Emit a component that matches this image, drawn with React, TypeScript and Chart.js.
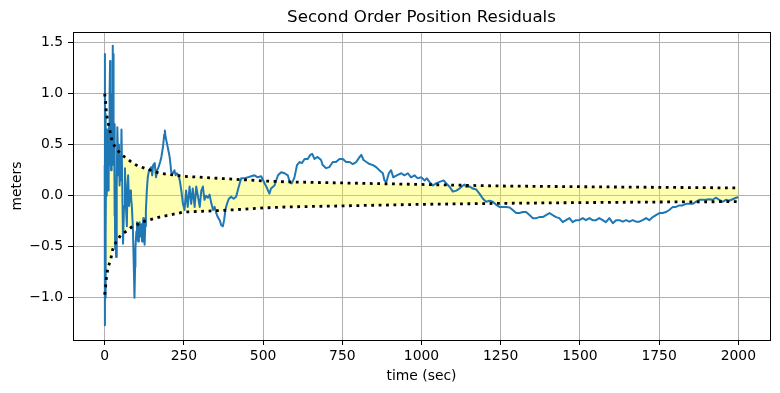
import React, { useEffect, useRef } from "react";
import { Chart, registerables } from "chart.js";

Chart.register(...registerables);

const titleText = "Second Order Position Residuals";
const xLabel = "time (sec)";
const yLabel = "meters";

const xTicks = [0, 250, 500, 750, 1000, 1250, 1500, 1750, 2000];
const yTicks = [-1.0, -0.5, 0.0, 0.5, 1.0, 1.5];

const residualTime = [
  0, 0.5, 1, 1.5, 2, 3, 4, 5, 6, 7, 8, 10, 11, 12, 13, 14, 15, 16, 17, 18, 19, 20, 22, 24, 25, 26, 27, 28, 30, 31,
  32, 33, 34, 36, 38, 40, 43, 45, 47, 49, 51, 53, 55, 58, 61, 64, 67, 70, 72, 74, 77, 80, 83, 86, 89, 92, 94, 96, 97,
  100, 102, 104, 106, 108, 110, 112, 114, 116, 118, 120, 122, 124, 126, 128, 130, 133, 136, 140, 147, 150, 153, 158,
  162, 166, 170, 175, 179, 184, 188, 190, 192, 196, 200, 205, 208, 210, 215, 220, 224, 228, 233, 237, 242, 247, 252,
  257, 262, 268, 273, 278, 284, 289, 294, 300, 305, 310, 315, 320, 326, 331, 337, 342, 347, 352, 357, 363, 368, 373,
  377, 381, 386, 392, 399, 407, 415, 420, 426, 431, 441, 452, 462, 473, 483, 494, 505, 510, 520, 525, 536, 547, 557,
  568, 578, 584, 590, 595, 599, 607, 615, 623, 631, 641, 649, 655, 662, 672, 683, 688, 699, 709, 720, 730, 741, 752,
  762, 773, 783, 794, 805, 810, 817, 826, 836, 847, 857, 867, 878, 883, 889, 897, 904, 911, 922, 936, 946, 957, 967,
  978, 988, 999, 1010, 1017, 1025, 1036, 1046, 1057, 1070, 1078, 1088, 1099, 1110, 1120, 1131, 1136, 1141, 1152, 1162,
  1173, 1183, 1194, 1204, 1215, 1225, 1236, 1246, 1257, 1267, 1278, 1288, 1299, 1309, 1320, 1330, 1341, 1351, 1362,
  1372, 1383, 1393, 1404, 1414, 1425, 1435, 1446, 1456, 1467, 1477, 1488, 1498, 1509, 1519, 1530, 1540, 1551, 1561,
  1572, 1582, 1593, 1604, 1614, 1625, 1635, 1646, 1656, 1667, 1677, 1688, 1698, 1709, 1719, 1730, 1740, 1751, 1761,
  1772, 1782, 1793, 1803, 1814, 1824, 1835, 1845, 1856, 1866, 1877, 1887, 1898, 1908, 1919, 1929, 1940, 1950, 1961,
  1971, 1982, 1993, 2000,
];

const residualMeters = [
  0.3, 1.39, -1.27, 0.6, -1.0, 0.8, -0.4, 0.65, 0.0, 0.55, 0.1, 0.65, 0.05, 0.6, 0.15, 0.7, 0.3, 1.0, 1.32, 0.3, 0.6,
  0.25, 0.55, 1.0, 1.47, 0.5, 1.39, 0.3, 0.7, -0.2,
  0.3, -0.52, 0.0, -0.6, 0.1, 0.67, 0.2, 0.5, 0.1, 0.35, 0.15, 0.65, 0.2, -0.47, -0.1, 0.27, -0.1, -0.3, 0.1, 0.2, -0.1,
  0.05, 0.0, -0.12, -0.32, -0.7, -1.0, -0.7, -0.52,
  -0.35, -0.26, -0.42, -0.45, -0.3, -0.26, -0.4, -0.36, -0.28, -0.45, -0.3, -0.22, -0.4, -0.48, -0.3, -0.15, 0.05,
  0.18, 0.25, 0.28, 0.2, 0.3, 0.32,
  0.18, 0.25, 0.28, 0.33, 0.38, 0.48, 0.6, 0.64, 0.58, 0.52, 0.46, 0.38, 0.3, 0.23, 0.22, 0.25, 0.2, 0.22, 0.2, 0.15,
  0.05, -0.08, -0.14,
  0.05, -0.11, 0.09, -0.08, 0.07, -0.11, 0.09, 0.0, -0.11, 0.05, 0.09, -0.04, 0.0, -0.02, 0.01, -0.08, -0.14, -0.11,
  -0.17, -0.21, -0.24, -0.29, -0.3,
  -0.24, -0.14, -0.08, -0.03, -0.01, -0.03, -0.01, 0.05, 0.12, 0.17, 0.17, 0.18, 0.19, 0.2, 0.18, 0.19, 0.12, 0.09,
  0.02, 0.07, 0.1, 0.2, 0.23,
  0.22, 0.2, 0.135, 0.12, 0.15, 0.18, 0.3, 0.33, 0.32, 0.36, 0.36, 0.4, 0.41, 0.36, 0.38, 0.35, 0.3, 0.27, 0.28, 0.33,
  0.33, 0.36, 0.36,
  0.33, 0.33, 0.31, 0.33, 0.38, 0.4, 0.35, 0.33, 0.31, 0.3, 0.28, 0.25, 0.22, 0.15, 0.135, 0.22, 0.25, 0.18, 0.2, 0.22,
  0.2, 0.22, 0.18,
  0.2, 0.17, 0.18, 0.15, 0.17, 0.135, 0.1, 0.12, 0.135, 0.15, 0.12, 0.09, 0.04, 0.05, 0.07, 0.1, 0.11, 0.085, 0.09,
  0.07,
  0.06, 0.02, -0.03, -0.06, -0.05, -0.06, -0.09, -0.11, -0.11, -0.11, -0.115, -0.14, -0.17, -0.17, -0.16, -0.16, -0.19,
  -0.22, -0.22,
  -0.21, -0.21, -0.19, -0.17, -0.19, -0.21, -0.22, -0.26, -0.24, -0.22, -0.26, -0.24, -0.24, -0.22, -0.24, -0.22,
  -0.24, -0.24, -0.22,
  -0.24, -0.26, -0.22, -0.27, -0.24, -0.24, -0.255, -0.24, -0.255, -0.24, -0.255, -0.255, -0.24, -0.22, -0.24, -0.21,
  -0.19, -0.17, -0.17,
  -0.16, -0.14, -0.11, -0.11, -0.095, -0.095, -0.08, -0.08, -0.08, -0.06, -0.04, -0.04, -0.04, -0.035, -0.04, -0.02,
  -0.04, -0.06, -0.04,
  -0.05, -0.035, -0.02, -0.015,
];

const envelopeTime = [0, 3, 5, 10, 12, 19, 23, 26, 35, 50, 84, 105, 116, 173, 250, 373, 500, 577, 750, 1000, 1250, 1500, 1750, 2000];
const envelopeUpper = [1.0, 0.92, 0.82, 0.73, 0.7, 0.6, 0.54, 0.51, 0.47, 0.41, 0.33, 0.29, 0.28, 0.22, 0.19, 0.168, 0.145, 0.135, 0.125, 0.11, 0.095, 0.088, 0.082, 0.076];
const envelopeLower = [-0.97, -0.89, -0.82, -0.71, -0.69, -0.63, -0.56, -0.52, -0.46, -0.39, -0.31, -0.28, -0.26, -0.21, -0.16, -0.145, -0.12, -0.11, -0.1, -0.085, -0.075, -0.068, -0.062, -0.058];

const FONT = "'DejaVu Sans', 'Liberation Sans', sans-serif";

const decorations = {
  id: "decorations",
  afterDraw(chart: any) {
    const { ctx, chartArea: a } = chart;
    ctx.save();
    ctx.strokeStyle = "#000";
    ctx.lineWidth = 1;
    ctx.strokeRect(a.left + 0.5, a.top + 0.5, a.right - a.left, a.bottom - a.top);
    const cx = (a.left + a.right) / 2;
    const cy = (a.top + a.bottom) / 2;
    ctx.fillStyle = "#000";
    ctx.textAlign = "center";
    ctx.textBaseline = "middle";
    ctx.font = `16.7px ${FONT}`;
    ctx.fillText(titleText, cx, 18);
    ctx.font = `13.9px ${FONT}`;
    ctx.fillText(xLabel, cx, 376);
    ctx.translate(17, cy);
    ctx.rotate(-Math.PI / 2);
    ctx.fillText(yLabel, 0, 0);
    ctx.restore();
  },
};

export default function App() {
  const ref = useRef<HTMLCanvasElement | null>(null);
  useEffect(() => {
    document.body.style.margin = "0";
    const canvas = ref.current;
    if (!canvas) return;
    const tickFont = { family: FONT, size: 13.9 };
    const chart = new Chart(canvas, {
      type: "line",
      data: {
        datasets: [
          {
            label: "upper",
            data: envelopeTime.map((t, i) => ({ x: t, y: envelopeUpper[i] })),
            borderColor: "#000",
            borderWidth: 2.8,
            borderDash: [2.8, 4.6],
            borderCapStyle: "butt",
            pointRadius: 0,
            tension: 0,
            fill: "+1",
            backgroundColor: "rgba(255,255,0,0.3)",
          },
          {
            label: "lower",
            data: envelopeTime.map((t, i) => ({ x: t, y: envelopeLower[i] })),
            borderColor: "#000",
            borderWidth: 2.8,
            borderDash: [2.8, 4.6],
            borderCapStyle: "butt",
            pointRadius: 0,
            tension: 0,
            fill: false,
          },
          {
            label: "residual",
            data: residualTime.map((t, i) => ({ x: t, y: residualMeters[i] })),
            borderColor: "#1f77b4",
            borderWidth: 2,
            borderJoinStyle: "round",
            pointRadius: 0,
            tension: 0,
            fill: false,
          },
        ],
      },
      options: {
        animation: false,
        responsive: false,
        devicePixelRatio: 1,
        layout: { padding: { top: 32, right: 10, left: 0, bottom: 0 } },
        plugins: {
          legend: { display: false },
          tooltip: { enabled: false },
          title: { display: false },
          filler: { drawTime: "beforeDatasetsDraw" },
        },
        scales: {
          x: {
            type: "linear",
            min: -100,
            max: 2100,
            afterBuildTicks: (s: any) => {
              s.ticks = xTicks.map((v) => ({ value: v }));
            },
            afterFit: (s: any) => {
              s.height = 53;
            },
            ticks: {
              font: tickFont,
              color: "#000",
              padding: 3,
              maxRotation: 0,
              autoSkip: false,
              callback: (v: any) => String(v),
            },
            grid: { color: "#b0b0b0", lineWidth: 1, tickColor: "#000", tickLength: 5 },
            border: { display: false },
          },
          y: {
            type: "linear",
            min: -1.415,
            max: 1.605,
            afterBuildTicks: (s: any) => {
              s.ticks = yTicks.map((v) => ({ value: v }));
            },
            afterFit: (s: any) => {
              s.width = 73;
            },
            ticks: {
              font: tickFont,
              color: "#000",
              padding: 5,
              autoSkip: false,
              callback: (v: any) => Number(v).toFixed(1).replace("-", "\u2212"),
            },
            grid: { color: "#b0b0b0", lineWidth: 1, tickColor: "#000", tickLength: 5 },
            border: { display: false },
          },
        },
      },
      plugins: [decorations],
    } as any);
    return () => chart.destroy();
  }, []);
  return <canvas ref={ref} width={780} height={393} style={{ display: "block", width: 780, height: 393 }} />;
}
